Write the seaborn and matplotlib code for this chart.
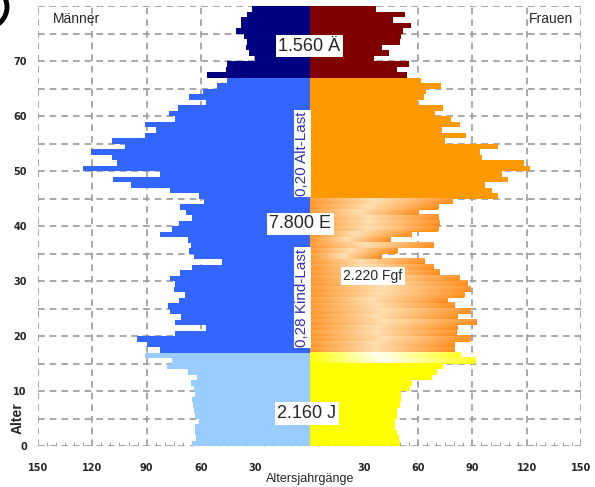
import numpy as np
import pandas as pd
import matplotlib
matplotlib.use("Agg")
import matplotlib.pyplot as plt
import seaborn as sns
from matplotlib.colors import LinearSegmentedColormap
from matplotlib.patches import Circle

# bar values per age, listed from the top (age 79) down to age 0
men_top_down = [31.5, 34.3, 38.0, 38.0, 40.4, 36.1, 34.3, 35.2, 33.7, 30.2,
                45.4, 46.3, 56.9, 45.4, 50.9, 58.9, 66.7, 57.4, 72.6, 77.8,
                74.1, 90.7, 84.8, 90.7, 109.3, 101.9, 120.7, 109.3, 106.5, 125.0,
                82.8, 108.3, 98.5, 76.9, 61.1, 58.3, 71.3, 68.5, 64.8, 72.2,
                75.9, 82.4, 67.0, 65.7, 66.7, 63.9, 48.5, 64.8, 71.3, 76.9,
                74.1, 75.0, 68.9, 72.2, 78.4, 76.9, 71.0, 74.4, 57.4, 74.1,
                95.4, 89.8, 82.8, 90.7, 75.9, 78.7, 67.0, 62.0, 65.7, 63.9,
                63.0, 64.8, 64.3, 63.9, 63.3, 61.1, 63.0, 63.0, 62.6, 64.8]
women_top_down = [37.0, 52.8, 46.3, 56.1, 51.9, 50.6, 50.0, 39.8, 43.9, 35.6,
                  55.0, 48.1, 54.1, 61.7, 72.8, 64.3, 63.5, 60.2, 73.5, 69.1,
                  78.3, 83.3, 73.1, 86.5, 74.6, 104.3, 94.4, 95.4, 118.5, 121.9,
                  106.1, 109.8, 96.7, 100.9, 104.1, 78.7, 71.0, 60.2, 70.9, 71.7,
                  70.9, 56.0, 44.2, 68.5, 48.1, 39.4, 63.0, 68.5, 71.5, 82.4,
                  87.0, 88.5, 85.2, 76.0, 80.0, 88.9, 81.5, 92.2, 81.5, 81.1,
                  88.5, 80.0, 79.6, 83.3, 91.3, 73.6, 70.7, 67.6, 56.4, 55.6,
                  50.7, 50.4, 50.0, 48.5, 48.3, 47.5, 47.4, 48.5, 49.5, 49.8]
ages = np.arange(80)
men = men_top_down[::-1]
women = women_top_down[::-1]

child_max = 16      # 0..16 Jugend
old_min = 67        # 67.. Alte
fert_min, fert_max = 15, 44

summary_labels = ["1.560 Ä", "7.800 E", "2.160 J", "2.220 Fgf"]
ratio_labels = ["0,20 Alt-Last", "0,28 Kind-Last"]
x_ticks = [-150, -120, -90, -60, -30, 0, 30, 60, 90, 120, 150]
x_ticklabels = ["150", "120", "90", "60", "30", "", "30", "60", "90", "120", "150"]
y_ticks = [0, 10, 20, 30, 40, 50, 60, 70]


def group(sex, a):
    if a <= child_max:
        return sex + "_jung"
    if a >= old_min:
        return sex + "_alt"
    return sex + "_erw"


rows = []
for a in ages:
    rows.append({"pos": a + 0.5, "value": -men[a], "group": group("m", a)})
    rows.append({"pos": a + 0.5, "value": women[a], "group": group("w", a)})
df = pd.DataFrame(rows)

palette = {"m_jung": "#99ccff", "m_erw": "#3366ff", "m_alt": "#000080",
           "w_jung": "#ffff00", "w_erw": "#ff9900", "w_alt": "#800000"}

sns.set_style("white")
plt.rcParams["font.family"] = ["Liberation Sans", "DejaVu Sans"]

fig = plt.figure(figsize=(5.95, 4.87), dpi=100)
ax = fig.add_axes([38 / 595, 41 / 487, 543 / 595, 440 / 487])

sns.barplot(data=df, x="value", y="pos", hue="group", palette=palette,
            orient="y", native_scale=True, dodge=False, width=1,
            saturation=1, errorbar=None, linewidth=0, legend=False,
            antialiased=False, ax=ax, zorder=2)

# shaded bars for women of fertile age
orange_cm = LinearSegmentedColormap.from_list(
    "og", [(0, "#ff9424"), (0.45, "#ffdcaa"), (1, "#ff8a16")])
yellow_cm = LinearSegmentedColormap.from_list(
    "yg", [(0, "#ffff00"), (0.45, "#fffff0"), (1, "#ffff10")])


def shade(cm, n=64, nrows=8):
    rgb = cm(np.linspace(0, 1, n))[:, :3]
    img = np.repeat(rgb[None, :, :], nrows, axis=0)
    w = np.linspace(0.15, 0.0, nrows)
    return img + (1 - img) * w[:, None, None]


for a in range(fert_min, fert_max + 1):
    cm = yellow_cm if a <= child_max else orange_cm
    ax.imshow(shade(cm), extent=[0, women[a], a, a + 1], aspect="auto",
              interpolation="bilinear", zorder=3)

# dashed grid
grid_kw = dict(color="#9a9a9a", lw=1.2, ls=(0, (4, 3)), zorder=0.5)
for yv in range(0, 81, 5):
    ax.axhline(yv, **grid_kw)
for xv in x_ticks:
    if xv != 0:
        ax.axvline(xv, **grid_kw)

ax.set_xlim(-150, 150)
ax.set_ylim(0, 80)
ax.set_xticks(x_ticks)
ax.set_xticklabels(x_ticklabels)
ax.set_yticks(y_ticks)
ax.set_yticklabels([str(v) for v in y_ticks])
ax.set_xticks(np.arange(-150, 151, 5), minor=True)
ax.tick_params(axis="both", which="major", length=0, labelsize=7)
ax.tick_params(axis="x", which="major", pad=12)
ax.tick_params(axis="y", which="major", pad=8)
ax.tick_params(axis="x", which="minor", direction="in", length=3,
               color="#9a9a9a", bottom=True)
for lab in ax.get_xticklabels() + ax.get_yticklabels():
    lab.set_fontweight("bold")
    lab.set_family("DejaVu Sans")
for s in ax.spines.values():
    s.set_visible(False)
ax.set_xlabel("")
ax.set_ylabel("")

box = dict(boxstyle="square,pad=0.15", fc="white", ec="none")
ax.text(0, 72.7, summary_labels[0], ha="center", va="center", fontsize=13,
        bbox=box, zorder=6)
ax.text(-5, 40.4, summary_labels[1], ha="center", va="center", fontsize=13,
        bbox=box, zorder=6)
ax.text(-1.4, 5.9, summary_labels[2], ha="center", va="center", fontsize=13,
        bbox=box, zorder=6)
ax.text(35, 30.9, summary_labels[3], ha="center", va="center", fontsize=10,
        bbox=box, zorder=6)
vbox = dict(boxstyle="square,pad=0.1", fc="white", ec="none")
ax.text(-4, 53.2, ratio_labels[0], rotation=90, ha="center", va="center",
        fontsize=11, color="#3333aa", bbox=vbox, zorder=6)
ax.text(-4, 27.0, ratio_labels[1], rotation=90, ha="center", va="center",
        fontsize=11, color="#3333aa", bbox=vbox, zorder=6)

ax.text(-142, 77.6, "Männer", ha="left", va="center", fontsize=10, zorder=6)
ax.text(145.5, 77.6, "Frauen", ha="right", va="center", fontsize=10, zorder=6)

fig.text(310 / 595, 2 / 487, "Altersjahrgänge", ha="center", va="bottom",
         fontsize=9)
fig.text(18 / 595, 1 - 418 / 487, "Alter", rotation=90, ha="center",
         va="center", fontsize=10, fontweight="bold")
fig.add_artist(Circle((-14, 480), 21, fill=False, lw=3.5, color="black",
                      transform=None))

fig.savefig("out.png", dpi=100)
